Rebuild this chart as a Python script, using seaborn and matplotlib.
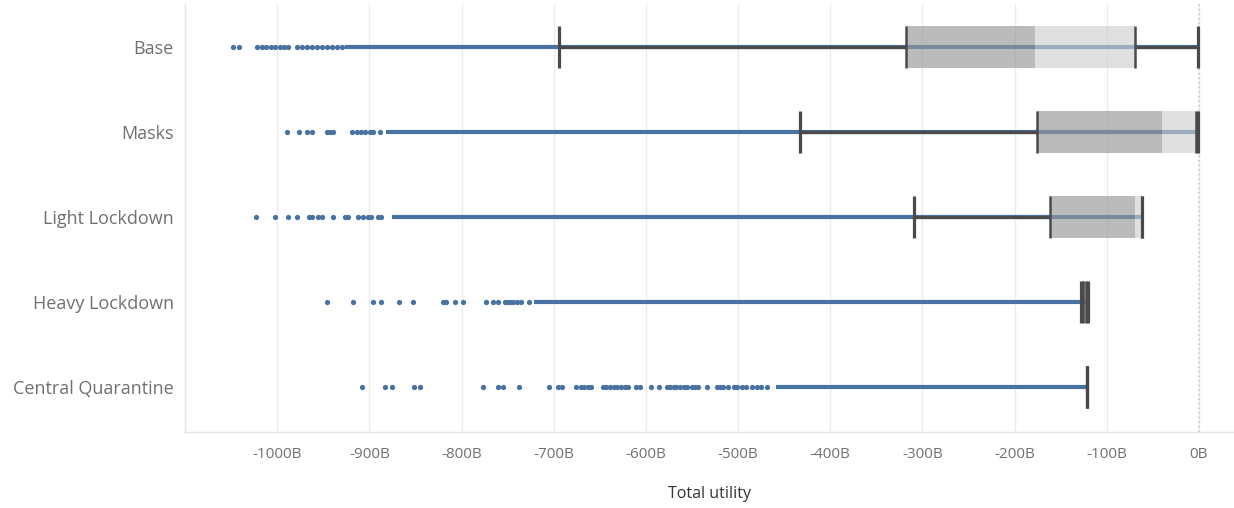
import matplotlib.pyplot as plt
import numpy as np
import pandas as pd
import seaborn as sns

BLUE = '#4872a1'
DARK = '#4a4a4a'
GRID = '#ebebeb'

SCENARIOS = ['Base', 'Masks', 'Light Lockdown', 'Heavy Lockdown', 'Central Quarantine']

# box plot summary per scenario (billions)
WHISKER_LO = [-694, -433, -309, -128, -122]
Q1 = [-318, -176, -162, -126, -122]
MEDIAN = [-178, -40, -69, -124, -122]
Q3 = [-69, -3, -62, -122.5, -122]
WHISKER_HI = [-1, -1, -62, -120, -122]

# where the dots merge into a solid run, and the largest value
DENSE_FROM = [-926, -882, -876, -721, -459]
MAX_VAL = [-1, -1, -61, -119, -119]

# the separate dots on the left
BASE_DOTS = [-1048, -1041, -1022, -1017, -1012, -1007, -1003, -997, -993, -988,
             -979, -973, -968, -962, -957, -952, -946, -941, -935, -930]
MASKS_DOTS = [-989, -976, -968, -962, -946, -943, -940, -919, -914, -909,
              -905, -899, -896, -889]
LIGHT_DOTS = [-1023, -1003, -988, -979, -966, -962, -956, -951, -940, -926,
              -923, -912, -907, -902, -898, -891, -887]
HEAVY_DOTS = [-946, -918, -896, -887, -868, -853, -820, -817, -807, -799,
              -774, -766, -761, -753, -751, -747, -744, -740, -736, -727]
CENTRAL_DOTS = [-908, -883, -875, -852, -845, -777, -760, -755, -738, -705,
                -695, -691, -676, -671, -667, -663, -660, -647, -643, -639,
                -635, -631, -627, -623, -620, -611, -606, -594, -586, -577,
                -574, -570, -567, -563, -559, -556, -550, -547, -543, -534,
                -523, -520, -516, -511, -505, -501, -496, -491, -485, -480,
                -475, -469]

TICKS = list(range(-1000, 1, 100))
TICK_LABELS = ['{}B'.format(t) for t in TICKS]

dots = pd.concat([
    pd.DataFrame({'scenario': name, 'utility': vals})
    for name, vals in zip(SCENARIOS, [BASE_DOTS, MASKS_DOTS, LIGHT_DOTS,
                                      HEAVY_DOTS, CENTRAL_DOTS])
], ignore_index=True)

sns.set_style('white')
plt.rcParams['font.family'] = ['Open Sans', 'DejaVu Sans']

fig = plt.figure(figsize=(12.34, 5.08), dpi=100)
ax = fig.add_axes([0.15, 0.15, 0.85, 0.842])

ax.axvline(0, color='#c4c4c4', ls=(0, (1, 2)), lw=1.1, zorder=1)

sns.stripplot(data=dots, x='utility', y='scenario', order=SCENARIOS,
              jitter=False, size=3.8, color=BLUE, linewidth=0, ax=ax, zorder=3)

ypos = np.arange(len(SCENARIOS))
ax.hlines(ypos, DENSE_FROM, MAX_VAL, color=BLUE, lw=3.0, zorder=3)

half = 0.245
for i in range(len(SCENARIOS)):
    # whiskers
    ax.hlines(i, WHISKER_LO[i], Q1[i], color=DARK, lw=2.3, zorder=4)
    ax.hlines(i, Q3[i], WHISKER_HI[i], color=DARK, lw=2.3, zorder=4)
    ax.vlines([WHISKER_LO[i], WHISKER_HI[i]], i - half, i + half,
              color=DARK, lw=2.3, zorder=6)
    # two-tone box
    ax.barh(i, MEDIAN[i] - Q1[i], left=Q1[i], height=2 * half,
            color='#979797', alpha=0.65, lw=0, zorder=5)
    ax.barh(i, Q3[i] - MEDIAN[i], left=MEDIAN[i], height=2 * half,
            color='#cecece', alpha=0.63, lw=0, zorder=5)
    ax.vlines([Q1[i], Q3[i]], i - half, i + half, color=DARK, lw=1.8, zorder=6)

ax.set_xlim(-1100, 38)
ax.set_ylim(4.53, -0.506)
ax.set_xticks(TICKS)
ax.set_xticklabels(TICK_LABELS)
ax.grid(axis='x', color=GRID, lw=1)
ax.set_axisbelow(True)

for s in ['top', 'right']:
    ax.spines[s].set_visible(False)
for s in ['left', 'bottom']:
    ax.spines[s].set_color('#e4e4e4')
    ax.spines[s].set_linewidth(1)

ax.tick_params(axis='x', length=6, color=GRID, pad=5, labelsize=11,
               labelcolor='#707070')
ax.tick_params(axis='y', length=0, pad=8, labelsize=13, labelcolor='#707070')
ax.set_ylabel('')
ax.set_xlabel('Total utility', fontsize=11.5, color='#333333', labelpad=17)

fig.savefig('out.png', dpi=100)
